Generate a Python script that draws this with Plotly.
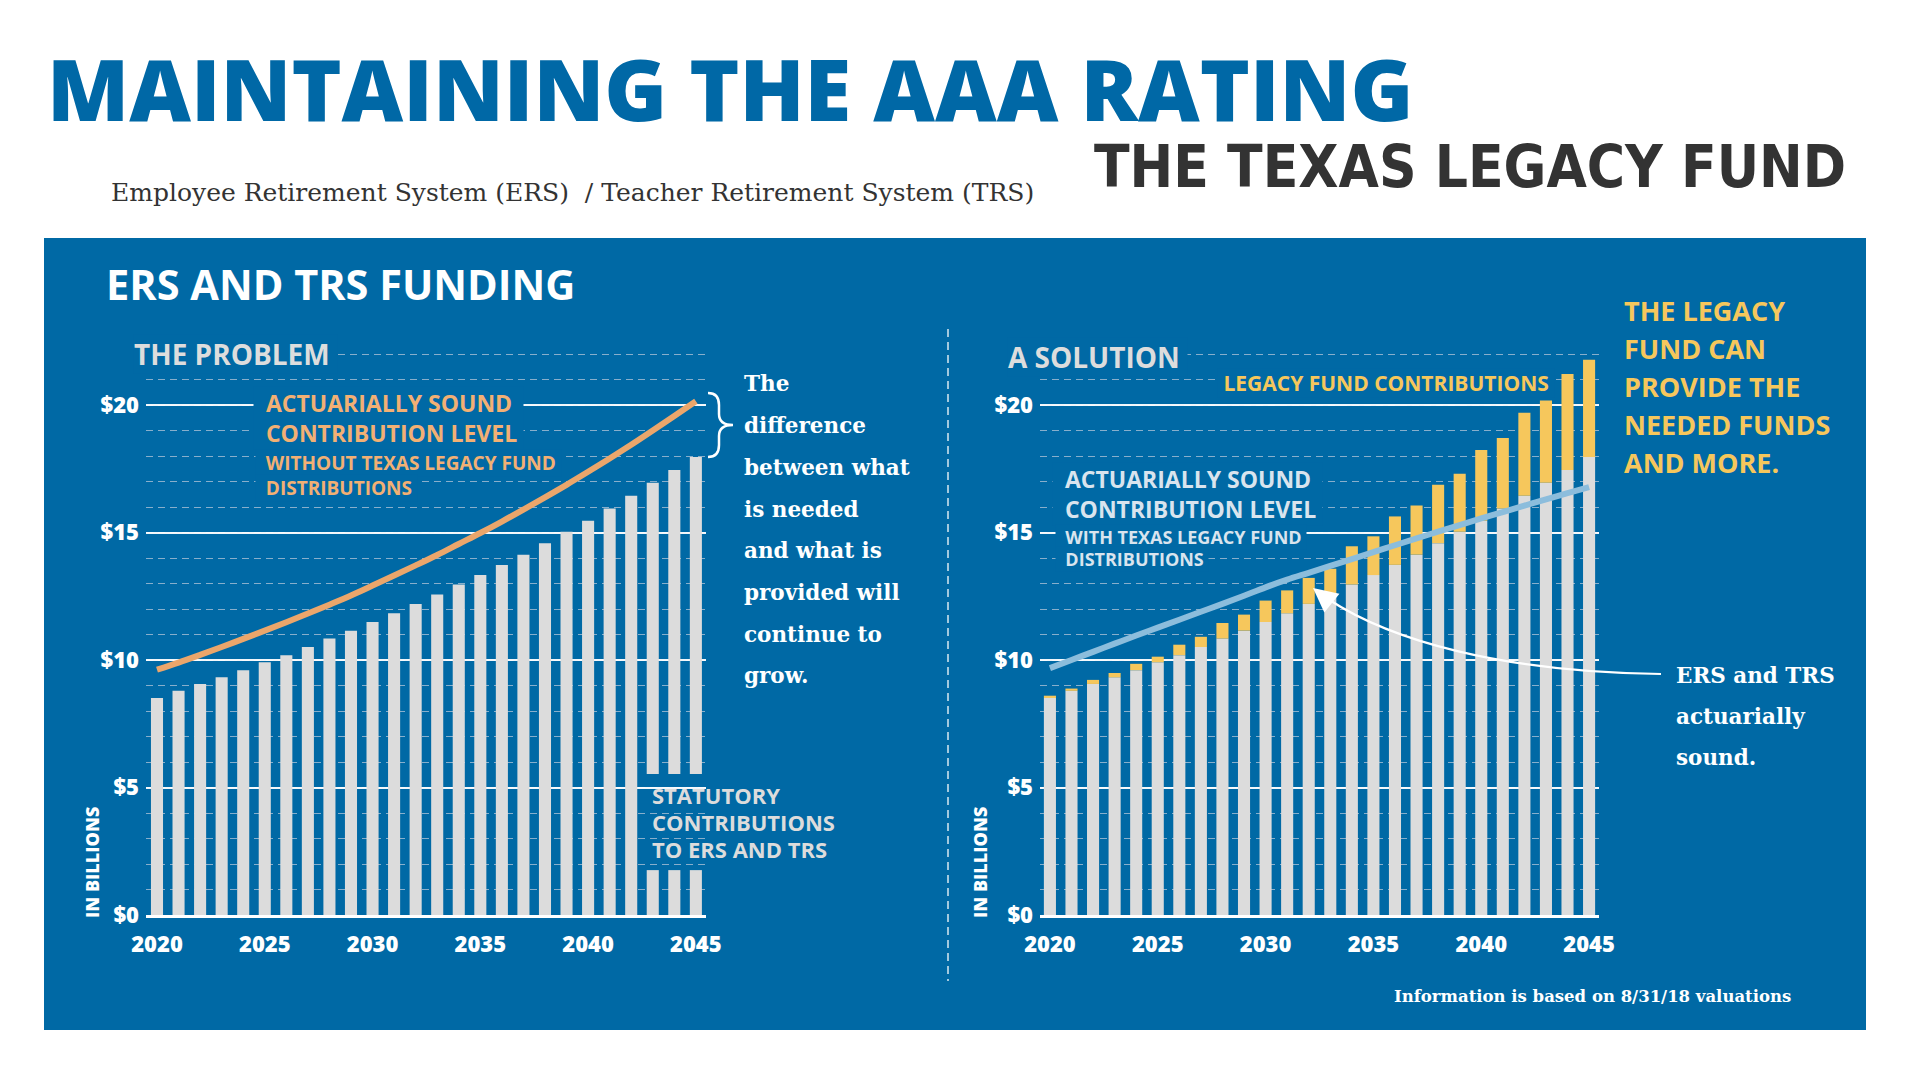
import plotly.graph_objects as go

W, H = 1922, 1088

# ---------------- data ----------------
years = list(range(2020, 2046))
statutory = [8.51, 8.79, 9.06, 9.32, 9.60, 9.91, 10.19, 10.51, 10.84, 11.15, 11.49, 11.83, 12.20,
             12.57, 12.96, 13.33, 13.73, 14.13, 14.58, 15.03, 15.46, 15.94, 16.44, 16.95, 17.45, 17.96]
legacy_contrib = [0.09, 0.09, 0.16, 0.17, 0.25, 0.22, 0.41, 0.40, 0.61, 0.63, 0.84, 0.90, 1.02,
                  1.01, 1.50, 1.52, 1.90, 1.93, 2.29, 2.27, 2.78, 2.77, 3.26, 3.23, 3.77, 3.81]
sound_without = [9.62, 9.90, 10.20, 10.51, 10.83, 11.15, 11.48, 11.82, 12.17, 12.53, 12.92, 13.31, 13.71,
                 14.12, 14.55, 14.98, 15.43, 15.90, 16.38, 16.87, 17.38, 17.90, 18.44, 19.00, 19.57, 20.15]
sound_with = [9.68, 10.00, 10.32, 10.64, 10.96, 11.27, 11.58, 11.89, 12.20, 12.52, 12.85, 13.15, 13.42,
              13.69, 13.96, 14.23, 14.50, 14.77, 15.03, 15.29, 15.55, 15.80, 16.05, 16.30, 16.54, 16.78]
break_years = [2043, 2044, 2045]     # bars interrupted by the "STATUTORY..." label
gap_lo, gap_hi = 1.76, 5.53
x_tick_vals = [2020, 2025, 2030, 2035, 2040, 2045]
x_tick_text = ["2020", "2025", "2030", "2035", "2040", "2045"]
y_tick_vals = [0, 5, 10, 15, 20]
y_tick_text = ["$0", "$5", "$10", "$15", "$20"]

# ---------------- style ----------------
PANEL = "#0069a5"
GRAY_BAR = "#dcdcdc"
YELLOW = "#f6c75c"
ORANGE_LINE = "#eba66b"
ORANGE_TXT = "#f2b074"
BLUE_LINE = "#8cbddc"
LIGHT_TXT = "#d9e4ee"
SANS = "Open Sans"
SERIF = "DejaVu Serif"


def px_x(p):
    return p / W


def px_y(p):
    return 1 - p / H


Y0_PX, PER_UNIT = 915, 25.5
Y_MAX = 22.5
ydom = [px_y(Y0_PX), px_y(Y0_PX - Y_MAX * PER_UNIT)]

fig = go.Figure()

# left chart bars (with label gap in the last bars)
lower_vals = [min(v, gap_lo) if yr in break_years else v for yr, v in zip(years, statutory)]
fig.add_trace(go.Bar(x=years, y=lower_vals, width=0.56, marker=dict(color=GRAY_BAR, line=dict(width=0)),
                     xaxis="x", yaxis="y", hoverinfo="skip"))
up_x = [yr for yr in years if yr in break_years]
up_v = [v - gap_hi for yr, v in zip(years, statutory) if yr in break_years]
fig.add_trace(go.Bar(x=up_x, y=up_v, base=[gap_hi] * len(up_x), width=0.56,
                     marker=dict(color=GRAY_BAR, line=dict(width=0)), xaxis="x", yaxis="y", hoverinfo="skip"))
fig.add_trace(go.Scatter(x=years, y=sound_without, mode="lines",
                         line=dict(color=ORANGE_LINE, width=6, shape="spline"), xaxis="x", yaxis="y"))

# right chart bars
fig.add_trace(go.Bar(x=years, y=statutory, width=0.56, marker=dict(color=GRAY_BAR, line=dict(width=0)),
                     xaxis="x2", yaxis="y2", hoverinfo="skip"))
fig.add_trace(go.Bar(x=years, y=legacy_contrib, base=statutory, width=0.56,
                     marker=dict(color=YELLOW, line=dict(width=0)), xaxis="x2", yaxis="y2", hoverinfo="skip"))
fig.add_trace(go.Scatter(x=years, y=sound_with, mode="lines",
                         line=dict(color=BLUE_LINE, width=6, shape="spline"), xaxis="x2", yaxis="y2"))

tickfont = dict(family=SANS, size=22, color="white", weight=800)


def xaxis_cfg(dom, rng, anchor):
    return dict(domain=dom, range=rng, anchor=anchor, tickvals=x_tick_vals, ticktext=x_tick_text,
                showgrid=False, zeroline=False, ticks="", tickfont=tickfont, ticklabelstandoff=8,
                showline=True, linecolor="white", linewidth=2.5, fixedrange=True, automargin=False)


def yaxis_cfg(anchor):
    return dict(domain=ydom, range=[0, Y_MAX], anchor=anchor, tickvals=y_tick_vals, ticktext=y_tick_text,
                showgrid=True, gridcolor="rgba(255,255,255,0.95)", gridwidth=1.5, zeroline=False,
                ticks="", tickfont=tickfont, ticklabelstandoff=6, fixedrange=True, automargin=False,
                minor=dict(dtick=1, tick0=0, showgrid=True, gridcolor="rgba(170,192,214,0.8)",
                           gridwidth=1, griddash="7px,5px", ticks=""))


annotations = []
NB = "\u00a0"


def txt(s, x, baseline, size, color, family=SANS, weight=700, anchor="left", bg=None, cap=0.36):
    d = dict(text=s, xref="paper", yref="paper", x=px_x(x), y=px_y(baseline - cap * size),
             xanchor=anchor, yanchor="middle", showarrow=False, borderpad=0, align="left",
             font=dict(family=family, size=size, color=color, weight=weight))
    if bg:
        d["bgcolor"] = bg
    annotations.append(d)


def block(lines, x, mid_baseline, size, color, bg=None):
    """two-line label placed as one text; mid_baseline = midpoint of the two baselines"""
    s = "<br>".join(NB + NB + ln + NB for ln in lines)
    txt(s, x - 0.52 * size, mid_baseline, size, color, bg=bg)


def line(s, x, baseline, size, color, bg=None):
    txt(NB + NB + s + NB, x - 0.52 * size, baseline, size, color, bg=bg)


# header
txt("MAINTAINING THE AAA RATING", 46, 119, 85, "#0068a6", weight=800)
txt("THE TEXAS LEGACY FUND", 1847, 188, 58,  "#333333",
    family="Liberation Sans Narrow, DejaVu Sans Condensed, Roboto", weight=700, anchor="right")
txt("Employee Retirement System (ERS)  / Teacher Retirement System (TRS)", 110, 202, 25, "#333333",
    family=SERIF, weight=400)

# panel titles
txt("ERS AND TRS FUNDING", 105, 299, 41.5, "white")
txt("THE PROBLEM" + NB, 133, 364, 28, "#dddddd", bg=PANEL)
txt("A SOLUTION" + NB, 1007, 367, 28, "#dddddd", bg=PANEL)

# left annotations
block(["ACTUARIALLY SOUND", "CONTRIBUTION LEVEL"], 265, 426.5, 23, ORANGE_TXT, bg=PANEL)
line("WITHOUT TEXAS LEGACY FUND", 265, 469.5, 19, ORANGE_TXT, bg=PANEL)
line("DISTRIBUTIONS", 265, 495.2, 19, ORANGE_TXT, bg=PANEL)
for s, b in [("STATUTORY", 803), ("CONTRIBUTIONS", 830), ("TO ERS AND TRS", 857)]:
    txt(s, 651, b, 22, "#dcdcdc")

diff_lines = ["The", "difference", "between what", "is needed", "and what is", "provided will",
              "continue to", "grow."]
for i, s in enumerate(diff_lines):
    txt(s, 743, 391.7 + 41.7 * i, 21.5, "white", family=SERIF, weight=700)

# right annotations
txt(NB + "LEGACY FUND CONTRIBUTIONS" + NB, 1222 - 5, 390.7, 21, YELLOW, bg=PANEL)
block(["ACTUARIALLY SOUND", "CONTRIBUTION LEVEL"], 1064, 502.5, 23, LIGHT_TXT, bg=PANEL)
line("WITH TEXAS LEGACY FUND", 1064, 543.5, 18, LIGHT_TXT, bg=PANEL)
line("DISTRIBUTIONS", 1064, 565.3, 18, LIGHT_TXT, bg=PANEL)

for i, s in enumerate(["THE LEGACY", "FUND CAN", "PROVIDE THE", "NEEDED FUNDS", "AND MORE."]):
    txt(s, 1623, 320 + 38 * i, 27, YELLOW)

for i, s in enumerate(["ERS and TRS", "actuarially", "sound."]):
    txt(s, 1675, 683 + 41 * i, 21.5, "white", family=SERIF, weight=700)

txt("Information is based on 8/31/18 valuations", 1393, 1002.7, 16.5, "white", family=SERIF, weight=700)

# rotated unit labels
for cx in (92, 980):
    annotations.append(dict(text="IN BILLIONS", xref="paper", yref="paper", x=px_x(cx), y=px_y(863),
                            xanchor="center", yanchor="middle", textangle=-90, showarrow=False,
                            font=dict(family=SANS, size=18, color="white", weight=800)))

# arrow head of curved pointer
annotations.append(dict(x=px_x(1313), y=px_y(588), xref="paper", yref="paper", text="", showarrow=True,
                        ax=15, ay=12, arrowhead=2, arrowsize=2.2, arrowwidth=2.2, arrowcolor="white"))


def P(x, y):
    return f"{px_x(x):.5f},{px_y(y):.5f}"


brace = (f"M {P(708,393)} Q {P(719,393)} {P(719,405)} L {P(719,414)} Q {P(719,425)} {P(733,425)} "
         f"Q {P(719,425)} {P(719,436)} L {P(719,445)} Q {P(719,457)} {P(708,457)}")
curve = f"M {P(1661,674)} C {P(1500,672)} {P(1390,640)} {P(1328,599)}"

shapes = [
    dict(type="rect", xref="paper", yref="paper", x0=px_x(44), x1=px_x(1866), y0=px_y(1030), y1=px_y(238),
         fillcolor=PANEL, line=dict(width=0), layer="below"),
    dict(type="line", xref="paper", yref="paper", x0=px_x(948), x1=px_x(948), y0=px_y(329), y1=px_y(981),
         line=dict(color="rgba(255,255,255,0.85)", width=1.5, dash="8px,5px")),
    dict(type="path", xref="paper", yref="paper", path=brace, line=dict(color="white", width=2.5)),
    dict(type="path", xref="paper", yref="paper", path=curve, line=dict(color="white", width=2.2)),
]

fig.update_layout(
    width=W, height=H, margin=dict(l=0, r=0, t=0, b=0, pad=0, autoexpand=False),
    paper_bgcolor="white", plot_bgcolor="rgba(0,0,0,0)",
    barmode="overlay", showlegend=False,
    xaxis=xaxis_cfg([px_x(146), px_x(706)], [2019.49, 2045.47], "y"),
    yaxis=yaxis_cfg("x"),
    xaxis2=xaxis_cfg([px_x(1040), px_x(1599)], [2019.54, 2045.46], "y2"),
    yaxis2=yaxis_cfg("x2"),
    annotations=annotations, shapes=shapes,
)

fig.write_html("out.html", config={"displayModeBar": False},
               post_script="document.body.style.margin='0';document.body.style.overflow='hidden';")
